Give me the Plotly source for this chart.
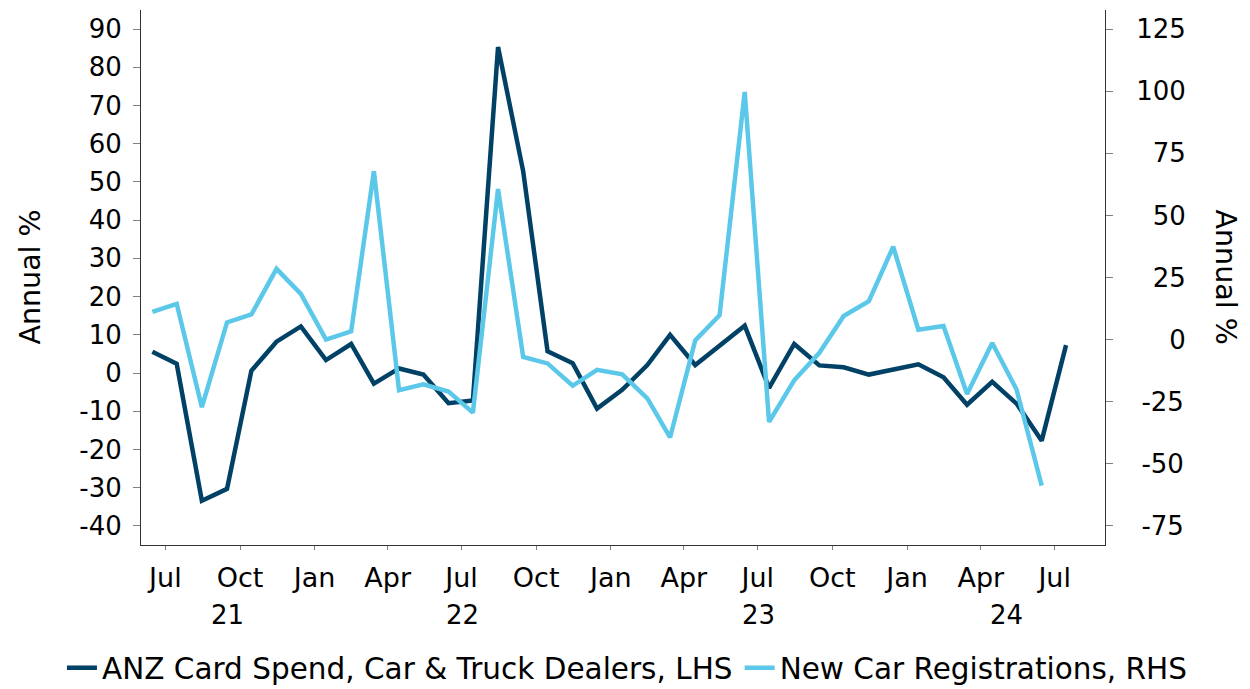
import pandas as pd
import plotly.graph_objects as go

# ---- data ----
months_anz = pd.date_range("2021-06-01", "2024-07-01", freq="MS") + pd.Timedelta(days=14)
months_reg = pd.date_range("2021-06-01", "2024-06-01", freq="MS") + pd.Timedelta(days=14)

anz_card_spend = [5.6, 2.4, -33.4, -30.3, 0.6, 8.2, 12.2, 3.4, 7.6, -2.8,
                  1.2, -0.4, -7.9, -7.2, 85.3, 52.8, 5.7, 2.6, -9.3, -4.4,
                  2.1, 10.0, 2.1, 7.3, 12.4, -3.9, 7.6, 2.0, 1.5, -0.4,
                  0.9, 2.3, -1.1, -8.3, -2.3, -8.0, -17.7, 7.3]
new_car_regs = [11.2, 14.4, -27.2, 6.9, 10.1, 28.5, 18.4, 0.0, 3.3, 67.8,
                -20.4, -18.0, -20.9, -29.4, 60.6, -7.0, -9.6, -18.6, -12.2, -14.0,
                -23.7, -39.4, -0.3, 9.8, 99.7, -33.1, -16.4, -5.3, 9.5, 15.5,
                37.4, 4.0, 5.5, -21.9, -1.4, -20.1, -58.8]

left_ticks = [90, 80, 70, 60, 50, 40, 30, 20, 10, 0, -10, -20, -30, -40]
right_ticks = [125, 100, 75, 50, 25, 0, -25, -50, -75]
year_labels = ["21", "22", "23", "24"]

series_names = ["ANZ Card Spend, Car & Truck Dealers, LHS", "New Car Registrations, RHS"]
DARK = "#004165"
LIGHT = "#5BC8EA"
FONT = "DejaVu Sans"
FS_NUM = 26
FS_MONTH = 27
FS_TEXT = 28.5
FS_LEGEND = 29.5

x_range = [pd.Timestamp("2021-06-01"), pd.Timestamp("2024-09-01")]
left_range = [-45, 95]
# right axis aligned so -40 <-> -75 and 90 <-> 125
def l2r(v):
    return -75 + (v + 40) * 200 / 130
right_range = [l2r(left_range[0]), l2r(left_range[1])]

def pad_right(v):
    s = str(v)
    n_digits = sum(c.isdigit() for c in s)
    pad = "\u2007" * (3 - n_digits - (1 if v < 0 else 0))
    if v < 0:
        pad = "\u2009" + pad
    return pad + s

fig = go.Figure()
fig.add_trace(go.Scatter(x=months_anz, y=anz_card_spend, name=series_names[0],
                         mode="lines", line=dict(color=DARK, width=4.5), yaxis="y",
                         legend="legend"))
fig.add_trace(go.Scatter(x=months_reg, y=new_car_regs, name=series_names[1],
                         mode="lines", line=dict(color=LIGHT, width=4.5), yaxis="y2",
                         legend="legend2"))

quarter_ticks = pd.date_range("2021-07-01", "2024-07-01", freq="QS-JAN")
jan_ticks = pd.date_range("2022-01-01", "2024-01-01", freq="YS")

W, H = 1242, 681
fig.update_layout(
    width=W, height=H,
    margin=dict(l=133, r=145, t=2, b=144, autoexpand=False),
    paper_bgcolor="white", plot_bgcolor="white",
    font=dict(family=FONT, size=FS_NUM, color="#000000"),
    showlegend=True,
    legend=dict(orientation="h", x=-0.082, xanchor="left", y=-0.23, yanchor="middle",
                font=dict(size=FS_LEGEND), itemwidth=30, bgcolor="rgba(0,0,0,0)"),
    legend2=dict(orientation="h", x=0.621, xanchor="left", y=-0.23, yanchor="middle",
                 font=dict(size=FS_LEGEND), itemwidth=30, bgcolor="rgba(0,0,0,0)"),
    xaxis=dict(range=x_range, type="date", tickmode="array", tickvals=list(quarter_ticks),
               tickformat="%b", ticks="outside", ticklen=4, tickcolor="#808080", tickwidth=1,
               tickfont=dict(size=FS_MONTH),
               showline=True, linecolor="#333333", linewidth=1, showgrid=False, zeroline=False,
               ticklabelstandoff=5),
    xaxis2=dict(range=x_range, type="date", overlaying="x", anchor="y", side="bottom",
                tickmode="array", tickvals=list(jan_ticks), showticklabels=False,
                ticks="outside", ticklen=9, tickcolor="#333333", tickwidth=1,
                showline=False, showgrid=False, zeroline=False),
    yaxis=dict(range=left_range, tickmode="array", tickvals=left_ticks,
               ticktext=[str(v) for v in left_ticks], ticks="outside", ticklen=7,
               tickcolor="#808080", showline=True, linecolor="#333333", linewidth=1,
               showgrid=False, zeroline=False, ticklabelstandoff=6),
    yaxis2=dict(range=right_range, overlaying="y", side="right", anchor="x", tickmode="array",
                tickvals=right_ticks, ticktext=[pad_right(v) for v in right_ticks],
                ticks="outside", ticklen=7, tickcolor="#808080", showline=True,
                linecolor="#333333", linewidth=1, showgrid=False, zeroline=False,
                ticklabelstandoff=18),
)

# year labels centred on the visible part of each year
years = [2021, 2022, 2023, 2024]
anns = []
for yr, lab in zip(years, year_labels):
    a = max(pd.Timestamp(f"{yr}-01-01"), x_range[0])
    b = min(pd.Timestamp(f"{yr + 1}-01-01"), x_range[1])
    mid = a + (b - a) / 2
    anns.append(dict(x=mid, y=-0.131, xref="x", yref="paper", text=lab, showarrow=False,
                     font=dict(size=FS_NUM), xanchor="center", yanchor="middle"))
anns.append(dict(x=-0.1151, y=0.5, xref="paper", yref="paper", text="Annual %", textangle=-90,
                 showarrow=False, font=dict(size=FS_TEXT), xanchor="center", yanchor="middle"))
anns.append(dict(x=1.1255, y=0.5, xref="paper", yref="paper", text="Annual %", textangle=90,
                 showarrow=False, font=dict(size=FS_TEXT), xanchor="center", yanchor="middle"))
fig.update_layout(annotations=anns)

fig.write_html("out.html")
